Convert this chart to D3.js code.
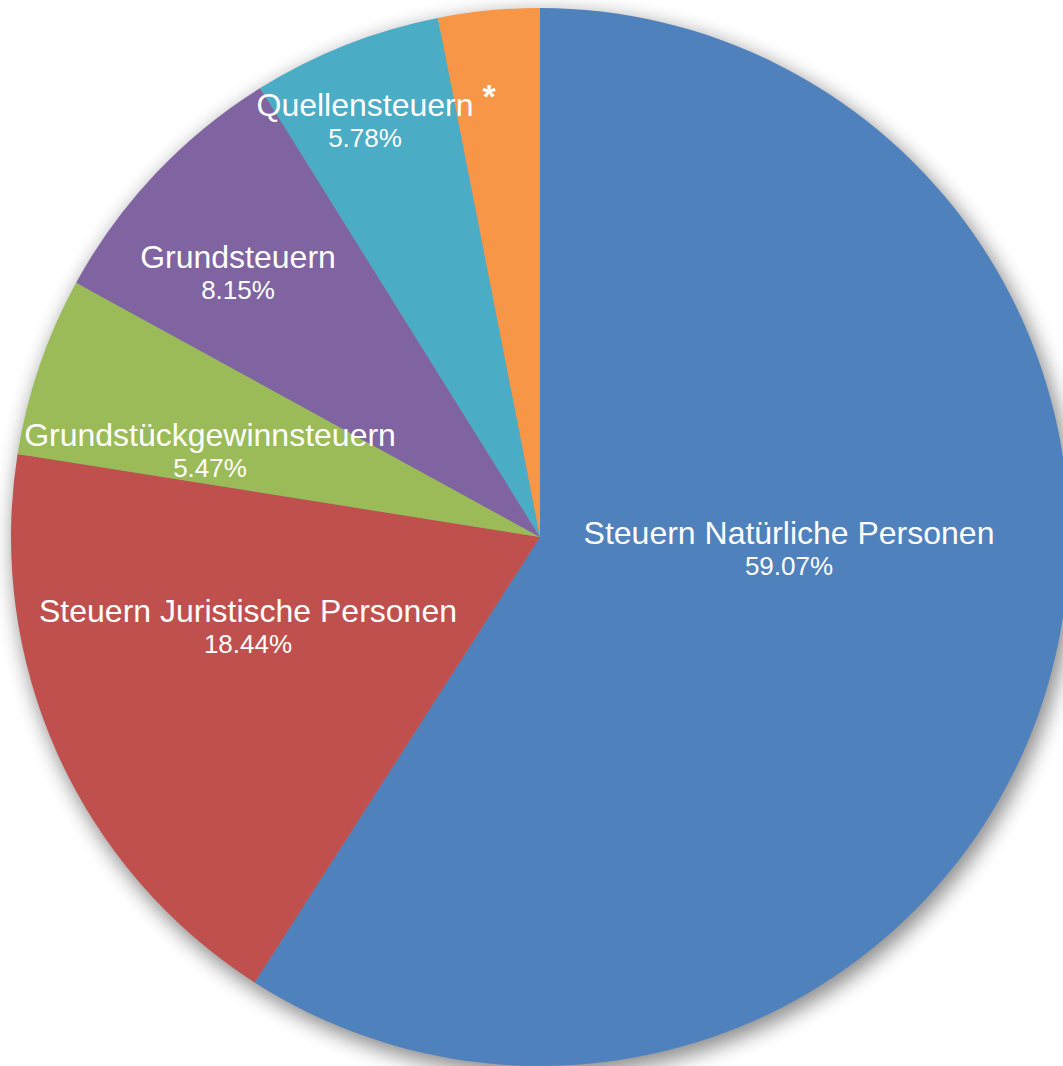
<!DOCTYPE html>
<html>
<head>
<meta charset="utf-8">
<script src="https://cdn.jsdelivr.net/npm/d3@7"></script>
<style>
  html, body { margin: 0; padding: 0; background: #ffffff; overflow: hidden; }
  svg { display: block; }
</style>
</head>
<body>
<script>
// ---- data ----
const categories = [
  "Steuern Natürliche Personen",
  "Steuern Juristische Personen",
  "Grundstückgewinnsteuern",
  "Grundsteuern",
  "Quellensteuern",
  "*"
];
const shares = [59.07, 18.44, 5.47, 8.15, 5.78, 3.09];
const showPercent = [true, true, true, true, true, false];

// ---- styles / layout ----
const colors = ["#4F81BD", "#C0504D", "#9BBB59", "#8064A2", "#4BACC6", "#F79646"];
// label baseline offsets from pie centre (name line)
const labelOffsets = [[249, 7], [-292, 85], [-330, -91], [-302, -269], [-175, -421], [-51, -429]];

const W = 1063, H = 1066;
const cx = 540, cy = 537, R = 529;

const svg = d3.select("body").append("svg").attr("width", W).attr("height", H);

const defs = svg.append("defs");
const f = defs.append("filter").attr("id", "shadow")
  .attr("x", "-20%").attr("y", "-20%").attr("width", "140%").attr("height", "140%");
f.append("feGaussianBlur").attr("stdDeviation", 10);

const g = svg.append("g").attr("transform", `translate(${cx},${cy})`);

g.append("circle").attr("cx", 4).attr("cy", 7).attr("r", R + 2)
  .attr("fill", "#000").attr("opacity", 0.45).attr("filter", "url(#shadow)");

const data = categories.map((c, i) => ({ name: c, value: shares[i], i }));
const pie = d3.pie().value(d => d.value).sort(null);
const arc = d3.arc().innerRadius(0).outerRadius(R);

g.selectAll("path.slice").data(pie(data)).join("path")
  .attr("class", "slice")
  .attr("d", arc)
  .attr("fill", d => colors[d.data.i]);

const fmt = d3.format(".2f");
const labels = g.selectAll("g.lbl").data(data).join("g")
  .attr("class", "lbl")
  .attr("transform", d => `translate(${labelOffsets[d.i][0]},${labelOffsets[d.i][1]})`);

labels.append("text")
  .attr("text-anchor", "middle")
  .attr("font-family", "'Liberation Sans', Arial, sans-serif")
  .attr("font-size", d => d.name === "*" ? 34 : 32)
  .attr("font-weight", d => d.name === "*" ? "bold" : "normal")
  .attr("fill", "#ffffff")
  .text(d => d.name);

labels.filter(d => showPercent[d.i]).append("text")
  .attr("text-anchor", "middle")
  .attr("y", 31)
  .attr("font-family", "'Liberation Sans', Arial, sans-serif")
  .attr("font-size", 26)
  .attr("fill", "#ffffff")
  .text(d => fmt(d.value) + "%");
</script>
</body>
</html>
